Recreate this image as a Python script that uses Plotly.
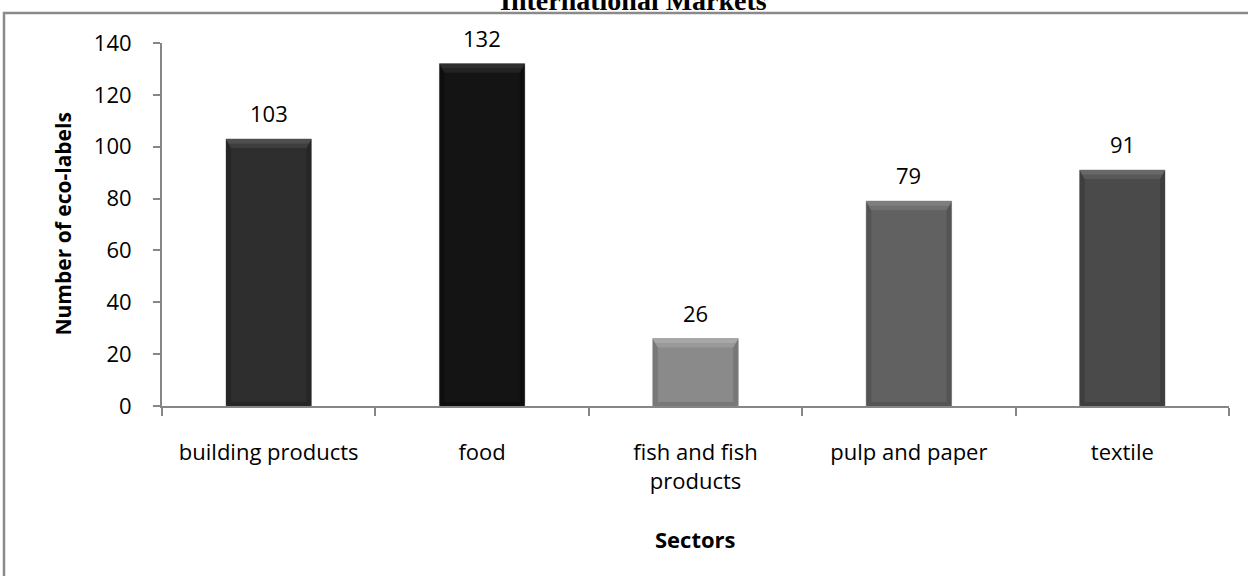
import plotly.graph_objects as go

# Eco-labels per sector
sectors = ["building products", "food", "fish and fish<br>products", "pulp and paper", "textile"]
counts = [103, 132, 26, 79, 91]
bar_colors = ["#2e2e2e", "#141414", "#8a8a8a", "#616161", "#4a4a4a"]
top_colors = ["#4e4e4e", "#2e2e2e", "#a8a8a8", "#7e7e7e", "#686868"]
top_mid_colors = ["#3e3e3e", "#222222", "#999999", "#707070", "#595959"]
edge_colors = ["#262626", "#0e0e0e", "#787878", "#545454", "#3e3e3e"]
y_ticks = [0, 20, 40, 60, 80, 100, 120, 140]

W, H = 1248, 576
L, R, T, B = 162, 19, 43, 170
plot_w = W - L - R
plot_h = H - T - B
y_max = 140
bar_w = 0.40
px_x = plot_w / len(sectors)   # pixels per category
px_y = plot_h / y_max          # pixels per unit
side = 5 / px_x
top_h = 9 / px_y
bot_h = 4 / px_y

font_main = "Open Sans, Lato, sans-serif"

fig = go.Figure()
fig.add_trace(go.Bar(
    x=sectors,
    y=counts,
    width=bar_w,
    marker=dict(color=bar_colors, line=dict(color="#b4b4b4", width=1)),
    hoverinfo="x+y",
    showlegend=False,
))


def trap(path, color):
    return dict(type="path", xref="x", yref="y", layer="above",
                line=dict(width=0), fillcolor=color, path=path)


shapes = []
for i, v in enumerate(counts):
    x0, x1 = i - bar_w / 2, i + bar_w / 2
    # bevelled edges: sides and bottom a touch darker, top lighter
    shapes.append(trap(f"M {x0},{v} L {x0 + side},{v - top_h} L {x0 + side},{bot_h} L {x0},0 Z",
                       edge_colors[i]))
    shapes.append(trap(f"M {x1},{v} L {x1 - side},{v - top_h} L {x1 - side},{bot_h} L {x1},0 Z",
                       edge_colors[i]))
    shapes.append(trap(f"M {x0},0 L {x1},0 L {x1 - side},{bot_h} L {x0 + side},{bot_h} Z",
                       edge_colors[i]))
    shapes.append(trap(f"M {x0},{v} L {x1},{v} L {x1 - side},{v - top_h} L {x0 + side},{v - top_h} Z",
                       top_mid_colors[i]))
    shapes.append(trap(f"M {x0},{v} L {x1},{v} L {x1 - side * 0.5},{v - top_h * 0.5} "
                       f"L {x0 + side * 0.5},{v - top_h * 0.5} Z",
                       top_colors[i]))

# outer chart border
shapes.append(dict(
    type="rect", xref="paper", yref="paper", layer="below",
    x0=(4 - L) / plot_w, x1=1.2,
    y0=-0.8, y1=(H - B - 13) / plot_h,
    line=dict(color="#8a8a8a", width=2.5), fillcolor="rgba(0,0,0,0)",
))

annotations = []
for s, v in zip(sectors, counts):
    annotations.append(dict(
        x=s, y=v, xref="x", yref="y", text=str(v), showarrow=False,
        yanchor="bottom", yshift=9, font=dict(family=font_main, size=22, color="#000"),
    ))

annotations += [
    dict(text="<b>International Markets</b>", xref="paper", yref="paper",
         x=(633 - L) / plot_w, y=(H - B - 1) / plot_h, showarrow=False,
         xanchor="center", yanchor="middle",
         font=dict(family="Liberation Serif, Times New Roman, serif", size=28, color="#000")),
    dict(text="<b>Number of eco-labels</b>", xref="paper", yref="paper",
         x=(62 - L) / plot_w, y=0.5, showarrow=False, textangle=-90,
         xanchor="center", yanchor="middle",
         font=dict(family=font_main, size=21, color="#000")),
    dict(text="<b>Sectors</b>", xref="paper", yref="paper",
         x=0.5, y=-(539 - (H - B)) / plot_h, showarrow=False,
         xanchor="center", yanchor="middle",
         font=dict(family=font_main, size=22, color="#000")),
]

fig.update_layout(
    width=W, height=H,
    margin=dict(l=L, r=R, t=T, b=B, pad=0),
    paper_bgcolor="white", plot_bgcolor="white",
    shapes=shapes, annotations=annotations,
    bargap=0.6,
    font=dict(family=font_main, size=22, color="#000"),
)
fig.update_xaxes(
    type="category",
    showline=True, linecolor="#868686", linewidth=2,
    ticks="outside", tickson="boundaries", ticklen=8, tickcolor="#868686", tickwidth=2,
    ticklabelstandoff=26,
    tickfont=dict(family=font_main, size=22, color="#000"),
    showgrid=False, zeroline=False,
)
fig.update_yaxes(
    range=[0, y_max], tickvals=y_ticks,
    showline=True, linecolor="#868686", linewidth=2,
    ticks="outside", ticklen=7, tickcolor="#868686", tickwidth=2,
    ticklabelstandoff=17,
    tickfont=dict(family=font_main, size=22, color="#000"),
    showgrid=False, zeroline=False,
)

fig.write_html("out.html")
